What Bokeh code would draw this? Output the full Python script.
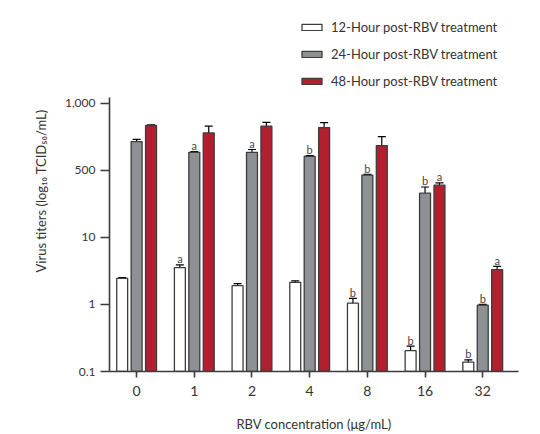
from bokeh.plotting import figure
from bokeh.models import ColumnDataSource, FixedTicker, Whisker, Legend, LegendItem, TeeHead
from bokeh.embed import file_html
from bokeh.resources import INLINE
from bokeh.core.properties import value

# ---- data (log10 TCID50/mL, as read on the chart's axis) ----
concentrations = ["0", "1", "2", "4", "8", "16", "32"]
series_names = ["12-Hour post-RBV treatment", "24-Hour post-RBV treatment", "48-Hour post-RBV treatment"]

titer_12h = [0.39, 0.55, 0.28, 0.33, 0.02, -0.69, -0.86]
titer_24h = [2.43, 2.27, 2.27, 2.21, 1.93, 1.66, -0.01]
titer_48h = [2.67, 2.56, 2.66, 2.64, 2.37, 1.78, 0.52]

err_12h = [0.01, 0.04, 0.03, 0.022, 0.07, 0.07, 0.034]
err_24h = [0.034, 0.01, 0.042, 0.01, 0.01, 0.093, 0.01]
err_48h = [0.01, 0.10, 0.056, 0.074, 0.134, 0.033, 0.049]

sig_12h = ["", "a", "", "", "b", "b", "b"]
sig_24h = ["", "a", "a", "b", "b", "b", "b"]
sig_48h = ["", "", "", "", "", "a", "a"]

y_tick_values = [-1, 0, 1, 2, 3]
y_tick_labels = ["0.1", "1", "10", "500", "1,000"]

FONT = "Lato"
fills = ["#ffffff", "#8e9093", "#b31f2f"]
outline = "#3c3c3c"

p = figure(width=540, height=434, output_backend="svg", toolbar_location=None,
           x_range=(-0.47, 6.62), y_range=(-1, 4.386),
           min_border_left=109, min_border_right=22, min_border_top=10, min_border_bottom=61)
p.outline_line_color = None
p.grid.grid_line_color = None
p.background_fill_color = None
p.border_fill_color = "white"

offsets = [-0.25, 0.0, 0.25]
vals = [titer_12h, titer_24h, titer_48h]
errs = [err_12h, err_24h, err_48h]
sigs = [sig_12h, sig_24h, sig_48h]
items = []
for k in range(3):
    xs = [i + offsets[k] for i in range(len(concentrations))]
    src = ColumnDataSource(dict(x=xs, top=vals[k],
                                lo=[v - e for v, e in zip(vals[k], errs[k])],
                                hi=[v + e for v, e in zip(vals[k], errs[k])],
                                sig=sigs[k]))
    r = p.vbar(x="x", top="top", bottom=-1, width=0.19, source=src,
               fill_color=fills[k], line_color=outline, line_width=1.3)
    items.append(LegendItem(label=series_names[k], renderers=[r]))
    w = Whisker(base="x", lower="lo", upper="hi", source=src, line_color="black", line_width=1.2,
                upper_head=TeeHead(size=8, line_color="black", line_width=1.2),
                lower_head=TeeHead(size=8, line_color="black", line_width=1.2))
    p.add_layout(w)
    p.text(x="x", y="hi", text="sig", source=src, text_align="center", text_baseline="alphabetic",
           y_offset=-6, text_font=value(FONT), text_font_size="11px", text_color="#444444")

legend = Legend(items=items, location=(190, 280), orientation="vertical",
                glyph_width=25, glyph_height=8, label_height=20, label_standoff=7, spacing=7,
                padding=0, margin=0, border_line_color=None, background_fill_alpha=0,
                label_text_font=FONT, label_text_font_size="13px", label_text_color="#333333")
p.add_layout(legend, "center")

# axes
p.xaxis.ticker = FixedTicker(ticks=list(range(len(concentrations))))
p.xaxis.major_label_overrides = {i: c for i, c in enumerate(concentrations)}
p.yaxis.ticker = FixedTicker(ticks=y_tick_values)
p.yaxis.major_label_overrides = {t: l for t, l in zip(y_tick_values, y_tick_labels)}
p.yaxis.bounds = (-1, 3.09)
for ax in (p.xaxis[0], p.yaxis[0]):
    ax.axis_line_color = outline
    ax.axis_line_width = 1.6
    ax.major_tick_line_color = outline
    ax.major_tick_line_width = 1.6
    ax.major_tick_in = 0
    ax.minor_tick_line_color = None
    ax.major_label_text_font = FONT
    ax.major_label_text_color = "#333333"
    ax.axis_label_text_font = FONT
    ax.axis_label_text_font_size = "13px"
    ax.axis_label_text_color = "#333333"
    ax.axis_label_text_font_style = "normal"
p.xaxis.major_tick_out = 6
p.yaxis.major_tick_out = 9
p.xaxis.major_label_text_font_size = "14px"
p.yaxis.major_label_text_font_size = "12px"
p.xaxis.major_label_standoff = 8
p.yaxis.major_label_standoff = 5
p.xaxis.axis_label = "RBV concentration (μg/mL)"
p.yaxis.axis_label = "Virus titers (log₁₀ TCID₅₀/mL)"
p.xaxis.axis_label_standoff = 17
p.yaxis.axis_label_standoff = 13

open("out.html", "w").write(file_html(p, INLINE))
